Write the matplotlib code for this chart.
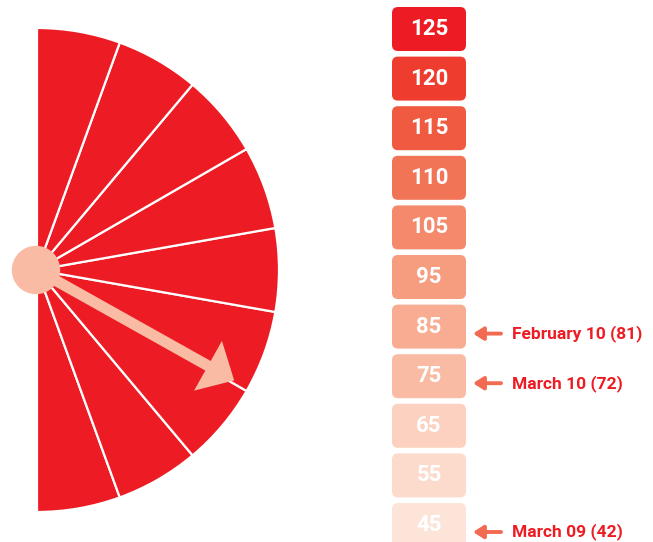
import numpy as np
from matplotlib import pyplot as plt
from matplotlib.patches import Wedge, Circle, FancyArrow, FancyBboxPatch

# scale boxes, top to bottom
scale_values = [125, 120, 115, 110, 105, 95, 85, 75, 65, 55, 45]
scale_colors = ["#ED1C24", "#EE3D2E", "#F05A40", "#F27456", "#F4896B",
                "#F69C7F", "#F8AC92", "#F9BBA3", "#FCD1C0", "#FDDBCC", "#FDE4D8"]

# dated markers pointing at boxes
note_labels = ["February 10 (81)", "March 10 (72)", "March 09 (42)"]
note_boxes = [85, 75, 45]

# gauge
n_segments = 9
gauge_min, gauge_max = 45, 125
pointer_value = 72

RED = "#ED1C24"
PALE = "#F9BBA3"
ARROW_ORANGE = "#F26A50"
num_font = ["Liberation Sans Narrow", "Roboto", "DejaVu Sans"]

fig = plt.figure(figsize=(6.53, 5.42), dpi=100)
ax = fig.add_axes([0, 0, 1, 1])
ax.set_xlim(0, 653)
ax.set_ylim(0, 542)
ax.set_aspect("equal")
ax.axis("off")

# fan
cx, cy, R = 37, 272, 242
step = 180 / n_segments
for k in range(n_segments):
    t1 = -90 + k * step
    ax.add_patch(Wedge((cx, cy), R, t1, t1 + step, facecolor=RED,
                       edgecolor="white", linewidth=1.6))

# pointer arrow
frac = (pointer_value - gauge_min) / (gauge_max - gauge_min)
ang = np.radians(-90 + frac * 180)
L = 226
ax.add_patch(FancyArrow(cx, cy, L * np.cos(ang), L * np.sin(ang), width=11,
                        head_width=57, head_length=30,
                        length_includes_head=True, color=PALE, linewidth=0))
ax.add_patch(Circle((cx - 1, cy), 23.5, color=PALE, zorder=5))

# scale boxes
bx, bw, bh = 392, 74, 44
top_center = 513
spacing = 49.6
centers = {}
for i, (v, c) in enumerate(zip(scale_values, scale_colors)):
    yc = top_center - spacing * i
    centers[v] = yc
    ax.add_patch(FancyBboxPatch((bx, yc - bh / 2), bw, bh,
                                boxstyle="round,pad=0,rounding_size=6",
                                facecolor=c, edgecolor="none"))
    ax.text(bx + bw / 2, yc, str(v), color="white", fontsize=16,
            fontweight="bold", family=num_font, ha="center", va="center")

# annotations
for lab, v in zip(note_labels, note_boxes):
    y = centers[v] - 7
    ax.annotate("", xy=(473, y), xytext=(501, y),
                arrowprops=dict(arrowstyle="-|>,head_length=0.6,head_width=0.38",
                                color=ARROW_ORANGE, lw=2.8, shrinkA=0, shrinkB=0))
    ax.text(512, y, lab, color=RED, fontsize=12.5, fontweight="bold",
            family=num_font, ha="left", va="center")

fig.savefig("out.png", dpi=100)
